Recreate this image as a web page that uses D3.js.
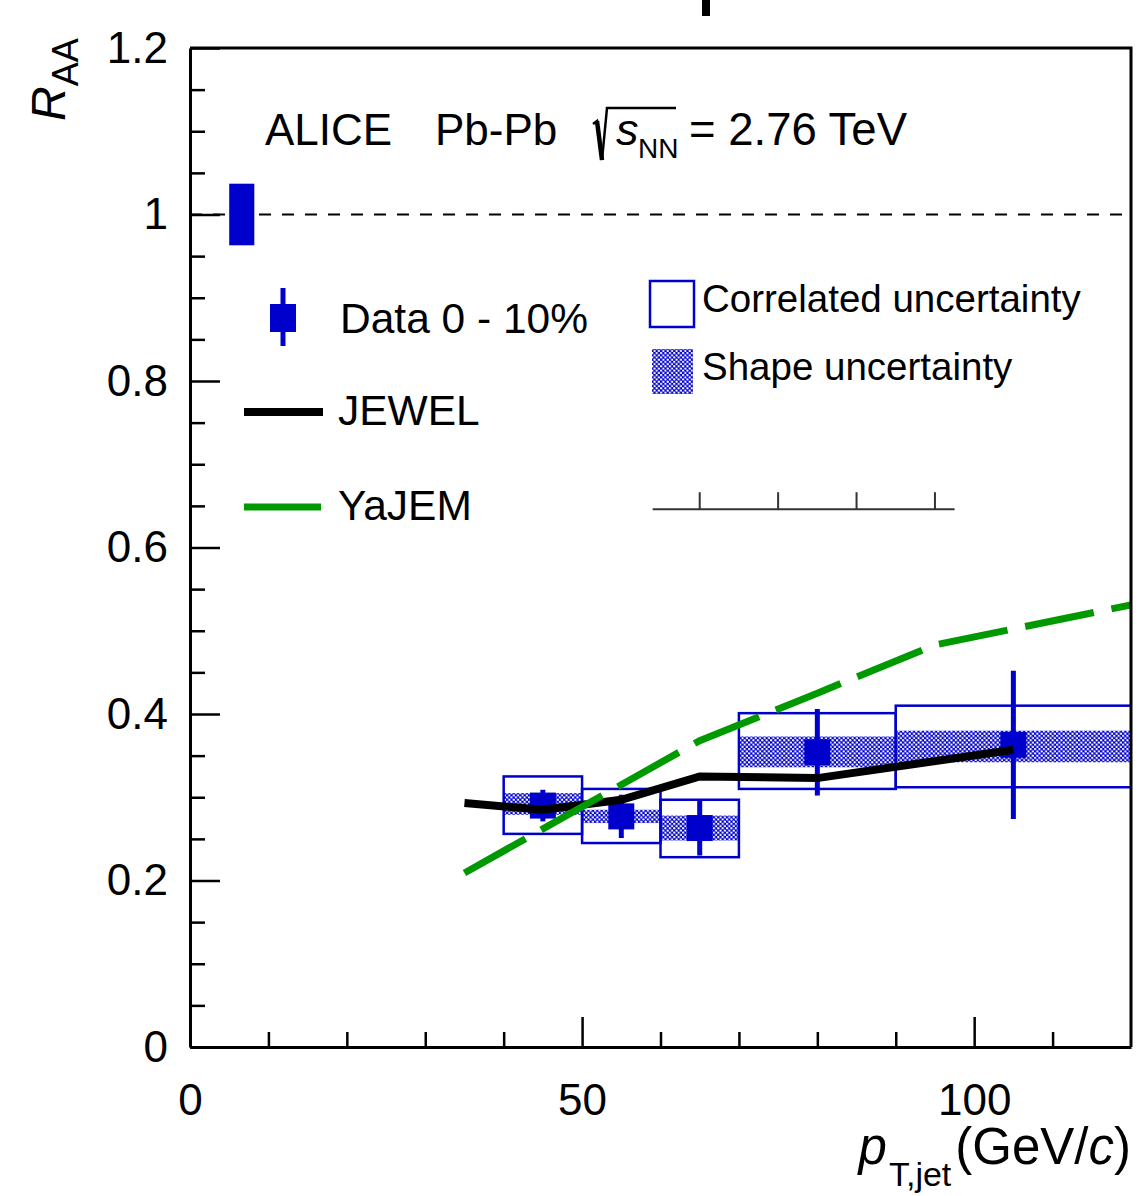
<html>
<head>
<meta charset="utf-8">
<title>ALICE jet RAA</title>
<script src="https://d3js.org/d3.v7.min.js"></script>
<style>
  body { margin: 0; background: #fff; }
  text { font-family: "Liberation Sans", Arial, Helvetica, sans-serif; fill: #000; }
</style>
</head>
<body>
<svg id="chart" width="1140" height="1196"></svg>
<script>
// measured data, 0-10% central Pb-Pb
var binLo   = [40, 50, 60, 70, 90];
var binHi   = [50, 60, 70, 90, 125];
var ptX     = [45, 55, 65, 80, 105];
var raa     = [0.290, 0.277, 0.263, 0.354, 0.363];
var statErr = [0.019, 0.026, 0.033, 0.052, 0.089];
var corrLo  = [0.256, 0.245, 0.228, 0.310, 0.312];
var corrHi  = [0.325, 0.310, 0.297, 0.401, 0.410];
var shapeLo = [0.279, 0.269, 0.248, 0.336, 0.342];
var shapeHi = [0.305, 0.285, 0.278, 0.373, 0.380];

// model curves
var jewelX = [35, 45, 55, 65, 80, 105];
var jewelY = [0.293, 0.285, 0.297, 0.325, 0.323, 0.357];
var yajemX = [35, 45, 55, 65, 80, 95, 120];
var yajemY = [0.209, 0.262, 0.315, 0.368, 0.425, 0.483, 0.531];

// global normalisation uncertainty at RAA = 1
var globX = [5, 8.2];
var globY = [0.963, 1.037];

var xMajor = [0, 50, 100];
var xMinor = [10, 20, 30, 40, 60, 70, 80, 90, 110];
var yMajor = [0, 0.2, 0.4, 0.6, 0.8, 1, 1.2];
var yMinor = [0.05, 0.1, 0.15, 0.25, 0.3, 0.35, 0.45, 0.5, 0.55, 0.65, 0.7, 0.75,
              0.85, 0.9, 0.95, 1.05, 1.1, 1.15];

// stray little axis fragment sitting in the middle of the frame
var strayRange = [59, 97.5];
var strayTicks = [65, 75, 85, 95];
var strayLevel = 0.646;

var blue = "#0000cc", green = "#009a00";

var svg = d3.select("#chart");
svg.append("rect").attr("width", 1140).attr("height", 1196).attr("fill", "#fff");

var x = d3.scaleLinear().domain([0, 120]).range([190, 1131]);
var y = d3.scaleLinear().domain([0, 1.2]).range([1047, 48]);

var defs = svg.append("defs");
defs.append("clipPath").attr("id", "plotclip")
  .append("rect")
  .attr("x", x(0)).attr("y", y(1.2))
  .attr("width", x(120) - x(0)).attr("height", y(0) - y(1.2));

var pat = defs.append("pattern").attr("id", "checker")
  .attr("patternUnits", "userSpaceOnUse").attr("width", 4.4).attr("height", 4.4);
pat.append("rect").attr("width", 4.4).attr("height", 4.4).attr("fill", blue);
pat.append("circle").attr("cx", 1.1).attr("cy", 1.1).attr("r", 1.15).attr("fill", "#fff");
pat.append("circle").attr("cx", 3.3).attr("cy", 3.3).attr("r", 1.15).attr("fill", "#fff");

// stray artifact at the very top of the picture
svg.append("rect").attr("x", 702).attr("y", 0).attr("width", 8).attr("height", 16).attr("fill", "#000");

var plot = svg.append("g").attr("clip-path", "url(#plotclip)");

// unity reference line
plot.append("line")
  .attr("x1", x(0)).attr("x2", x(120)).attr("y1", y(1)).attr("y2", y(1))
  .attr("stroke", "#000").attr("stroke-width", 2).attr("stroke-dasharray", "12,11");

plot.append("rect")
  .attr("x", x(globX[0])).attr("width", x(globX[1]) - x(globX[0]))
  .attr("y", y(globY[1])).attr("height", y(globY[0]) - y(globY[1]))
  .attr("fill", blue);

// stray axis fragment
plot.append("line")
  .attr("x1", x(strayRange[0])).attr("x2", x(strayRange[1]))
  .attr("y1", y(strayLevel)).attr("y2", y(strayLevel))
  .attr("stroke", "#333").attr("stroke-width", 2);
plot.selectAll(".stray").data(strayTicks).enter().append("line")
  .attr("x1", function(d) { return x(d); }).attr("x2", function(d) { return x(d); })
  .attr("y1", y(strayLevel)).attr("y2", y(strayLevel) - 17)
  .attr("stroke", "#333").attr("stroke-width", 2);

var idx = d3.range(ptX.length);

// shape uncertainty bands
plot.selectAll(".shape").data(idx).enter().append("rect")
  .attr("x", function(i) { return x(binLo[i]); })
  .attr("width", function(i) { return x(binHi[i]) - x(binLo[i]); })
  .attr("y", function(i) { return y(shapeHi[i]); })
  .attr("height", function(i) { return y(shapeLo[i]) - y(shapeHi[i]); })
  .attr("fill", "url(#checker)");

// correlated uncertainty boxes
plot.selectAll(".corr").data(idx).enter().append("rect")
  .attr("x", function(i) { return x(binLo[i]); })
  .attr("width", function(i) { return x(binHi[i]) - x(binLo[i]); })
  .attr("y", function(i) { return y(corrHi[i]); })
  .attr("height", function(i) { return y(corrLo[i]) - y(corrHi[i]); })
  .attr("fill", "none").attr("stroke", blue).attr("stroke-width", 2.5);

// data points with statistical errors
plot.selectAll(".stat").data(idx).enter().append("line")
  .attr("x1", function(i) { return x(ptX[i]); })
  .attr("x2", function(i) { return x(ptX[i]); })
  .attr("y1", function(i) { return y(raa[i] - statErr[i]); })
  .attr("y2", function(i) { return y(raa[i] + statErr[i]); })
  .attr("stroke", blue).attr("stroke-width", 5);
plot.selectAll(".pt").data(idx).enter().append("rect")
  .attr("x", function(i) { return x(ptX[i]) - 13; })
  .attr("y", function(i) { return y(raa[i]) - 13; })
  .attr("width", 26).attr("height", 26)
  .attr("fill", blue);

// JEWEL
var line = d3.line().x(function(d) { return x(d[0]); }).y(function(d) { return y(d[1]); });
plot.append("path")
  .datum(d3.zip(jewelX, jewelY))
  .attr("d", line)
  .attr("fill", "none").attr("stroke", "#000").attr("stroke-width", 8);

// YaJEM
plot.append("path")
  .datum(d3.zip(yajemX, yajemY))
  .attr("d", line)
  .attr("fill", "none").attr("stroke", green).attr("stroke-width", 7)
  .attr("stroke-dasharray", "70,18");

// axes
var axisStroke = function(g) {
  g.selectAll(".domain").attr("stroke", "#000").attr("stroke-width", 3);
  g.selectAll(".tick line").attr("stroke", "#000").attr("stroke-width", 2.5);
  g.selectAll(".tick text").attr("font-size", 44).attr("fill", "#000")
    .attr("font-family", "Liberation Sans, Arial, sans-serif");
};

svg.append("g").attr("transform", "translate(0," + y(0) + ")")
  .call(d3.axisBottom(x).tickValues(xMajor).tickSize(-30).tickSizeOuter(0).tickPadding(37))
  .call(axisStroke);
svg.append("g").attr("transform", "translate(0," + y(0) + ")")
  .call(d3.axisBottom(x).tickValues(xMinor).tickSize(-15).tickSizeOuter(0).tickFormat(""))
  .call(axisStroke)
  .call(function(g) { g.select(".domain").remove(); });

svg.append("g").attr("transform", "translate(" + x(0) + ",0)")
  .call(d3.axisLeft(y).tickValues(yMajor).tickSize(-30).tickSizeOuter(0).tickPadding(22)
          .tickFormat(d3.format("~g")))
  .call(axisStroke);
svg.append("g").attr("transform", "translate(" + x(0) + ",0)")
  .call(d3.axisLeft(y).tickValues(yMinor).tickSize(-15).tickSizeOuter(0).tickFormat(""))
  .call(axisStroke)
  .call(function(g) { g.select(".domain").remove(); });

// top and right frame
svg.append("path")
  .attr("d", "M" + x(0) + "," + y(1.2) + "H" + x(120) + "V" + y(0))
  .attr("fill", "none").attr("stroke", "#000").attr("stroke-width", 3);

// axis titles
svg.append("text")
  .attr("transform", "translate(65,121) rotate(-90)")
  .attr("font-size", 48)
  .call(function(t) {
    t.append("tspan").attr("font-style", "italic").text("R");
    t.append("tspan").attr("font-size", 36).attr("dy", 13).text("AA");
  });

svg.append("text")
  .attr("x", 1131).attr("y", 1164)
  .attr("text-anchor", "end")
  .attr("font-size", 51)
  .call(function(t) {
    t.append("tspan").attr("font-style", "italic").text("p");
    t.append("tspan").attr("font-size", 34).attr("dy", 22).attr("dx", 2).text("T,jet");
    t.append("tspan").attr("dy", -22).attr("dx", 4).text("(GeV/");
    t.append("tspan").attr("font-style", "italic").text("c");
    t.append("tspan").text(")");
  });

// header
svg.append("text").attr("x", 265).attr("y", 145).attr("font-size", 44).text("ALICE");
svg.append("text").attr("x", 435).attr("y", 145).attr("font-size", 44).text("Pb-Pb");
svg.append("path")
  .attr("d", "M593,124 L597,121 L602,160 L607,108 L676,108")
  .attr("fill", "none").attr("stroke", "#000").attr("stroke-width", 2.5)
  .attr("stroke-linejoin", "miter");
svg.append("path").attr("d", "M597,121 L602,160").attr("stroke", "#000").attr("stroke-width", 4.5);
svg.append("text").attr("x", 616).attr("y", 145).attr("font-size", 45)
  .attr("font-style", "italic").text("s");
svg.append("text").attr("x", 638).attr("y", 158).attr("font-size", 28).text("NN");
svg.append("text").attr("x", 689).attr("y", 145).attr("font-size", 45.5).text("= 2.76 TeV");

// legend, left block
var leg = svg.append("g");
leg.append("line").attr("x1", 283).attr("x2", 283).attr("y1", 288).attr("y2", 346)
  .attr("stroke", blue).attr("stroke-width", 5);
leg.append("rect").attr("x", 270).attr("y", 304).attr("width", 26).attr("height", 28).attr("fill", blue);
leg.append("text").attr("x", 340).attr("y", 333).attr("font-size", 42.5).text("Data 0 - 10%");

leg.append("line").attr("x1", 244).attr("x2", 323).attr("y1", 412).attr("y2", 412)
  .attr("stroke", "#000").attr("stroke-width", 8);
leg.append("text").attr("x", 338).attr("y", 425).attr("font-size", 42.5).text("JEWEL");

leg.append("line").attr("x1", 244).attr("x2", 321).attr("y1", 507).attr("y2", 507)
  .attr("stroke", green).attr("stroke-width", 7);
leg.append("text").attr("x", 338).attr("y", 520).attr("font-size", 42.5).text("YaJEM");

// legend, right block
leg.append("rect").attr("x", 650).attr("y", 281).attr("width", 44).attr("height", 46)
  .attr("fill", "none").attr("stroke", blue).attr("stroke-width", 2.5);
leg.append("text").attr("x", 702).attr("y", 312).attr("font-size", 38.5).text("Correlated uncertainty");
leg.append("rect").attr("x", 652).attr("y", 349).attr("width", 41).attr("height", 45)
  .attr("fill", "url(#checker)");
leg.append("text").attr("x", 702).attr("y", 380).attr("font-size", 38.5).text("Shape uncertainty");
</script>
</body>
</html>
